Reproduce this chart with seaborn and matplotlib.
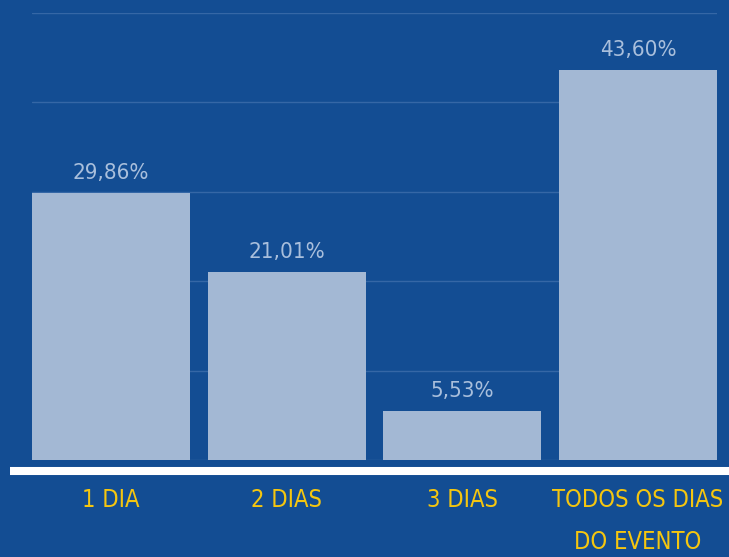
import matplotlib.pyplot as plt
import seaborn as sns
from matplotlib.lines import Line2D

categories = ['1 DIA', '2 DIAS', '3 DIAS', 'TODOS OS DIAS\nDO EVENTO']
values = [29.86, 21.01, 5.53, 43.60]
yticks = [0, 10, 20, 30, 40, 50]

bg = '#134d93'
bar_color = '#a3b8d4'
label_color = '#a9bfdc'
yellow = '#f5c60f'

sns.set_theme(style='white')
plt.rcParams['font.family'] = ['DejaVu Sans']
plt.rcParams['font.stretch'] = 'condensed'

fig = plt.figure(figsize=(7.29, 5.57), dpi=100, facecolor=bg)
ax = fig.add_axes([32 / 729, 97 / 557, 685 / 729, 447 / 557])
ax.set_facecolor(bg)

sns.barplot(x=categories, y=values, color=bar_color, saturation=1,
            width=0.9, linewidth=0, ax=ax, zorder=3)

ax.set_xlim(-0.45, 3.45)
ax.set_ylim(0, 50)
ax.set_yticks(yticks)
ax.set_yticklabels([])
ax.grid(axis='y', color='#3e6eab', linewidth=1, alpha=0.8, zorder=0)
ax.grid(axis='x', visible=False)
for s in ax.spines.values():
    s.set_visible(False)
ax.tick_params(axis='both', length=0)
ax.tick_params(axis='x', pad=20, labelsize=17, labelcolor=yellow)
for t in ax.get_xticklabels():
    t.set_linespacing(1.95)
    t.set_fontstretch('condensed')
ax.set_xlabel('')
ax.set_ylabel('')

for i, v in enumerate(values):
    ax.annotate(f'{v:.2f}%'.replace('.', ','), (i, v), xytext=(0, 7),
                textcoords='offset points', ha='center', va='bottom',
                fontsize=16, color=label_color, fontstretch='condensed')

# white baseline under the bars
fig.add_artist(Line2D([10 / 729, 1], [86 / 557, 86 / 557],
                      transform=fig.transFigure, color='white',
                      linewidth=5.8, solid_capstyle='butt'))

fig.savefig('out.png', dpi=100, facecolor=bg)
